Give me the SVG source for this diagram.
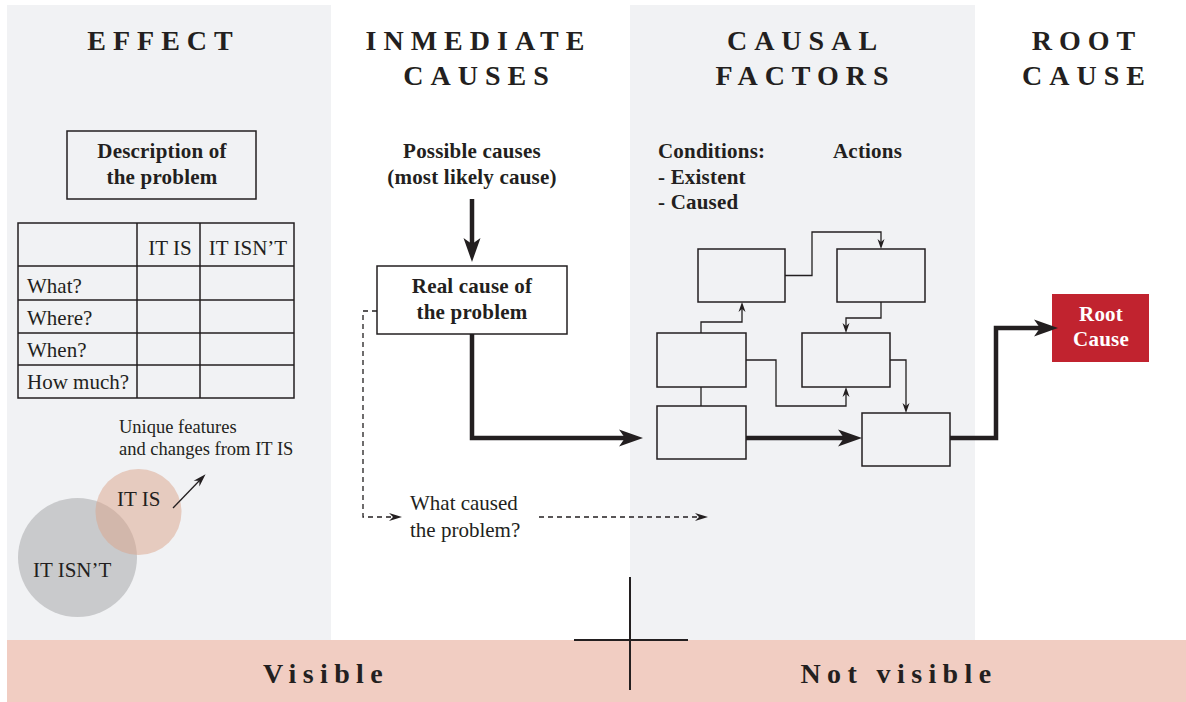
<svg xmlns="http://www.w3.org/2000/svg" width="1186" height="702" viewBox="0 0 1186 702">
<style>
text{font-family:"Liberation Serif","Times New Roman",serif;fill:#231f20}
.hd{font-size:28px;font-weight:bold;letter-spacing:7px;text-anchor:middle}
.ft{font-size:28px;font-weight:bold;letter-spacing:6.4px;text-anchor:middle}
.b{font-size:21px;font-weight:bold;letter-spacing:0.2px}
.bc{font-size:21px;font-weight:bold;letter-spacing:0.2px;text-anchor:middle}
.r{font-size:21px}
.rs{font-size:18.5px}
.box{fill:none;stroke:#231f20;stroke-width:1.5}
.thin{fill:none;stroke:#231f20;stroke-width:1.3}
.thick{fill:none;stroke:#231f20;stroke-width:4.5}
.dash{fill:none;stroke:#231f20;stroke-width:1.3;stroke-dasharray:5 4}
</style>
<defs>
<marker id="ah" markerUnits="userSpaceOnUse" viewBox="-14 -10 28 20" markerWidth="28" markerHeight="20" refX="0" refY="0" orient="auto">
<path d="M12,0 L-12,-8.5 L-6,0 L-12,8.5 Z" fill="#231f20"/>
</marker>
<marker id="as" markerUnits="userSpaceOnUse" viewBox="-6 -6 14 12" markerWidth="14" markerHeight="12" refX="0" refY="0" orient="auto">
<path d="M6,0 L-4,-3.5 L-1,0 L-4,3.5 Z" fill="#231f20"/>
</marker>
<marker id="ad" markerUnits="userSpaceOnUse" viewBox="-8 -6 18 12" markerWidth="18" markerHeight="12" refX="0" refY="0" orient="auto">
<path d="M8,0 L-5,-4 L-1,0 L-5,4 Z" fill="#231f20"/>
</marker>
</defs>

<g id="background">
<rect x="7" y="5" width="324" height="635" fill="#f1f2f4"/>
<rect x="630" y="5" width="345" height="635" fill="#f1f2f4"/>
<rect x="7" y="640" width="1179" height="62" fill="#f1cdc2"/>
</g>

<g id="headers">
<text class="hd" x="163.5" y="50">EFFECT</text>
<text class="hd" x="478.5" y="50">INMEDIATE</text>
<text class="hd" x="479.5" y="85">CAUSES</text>
<text class="hd" x="805.5" y="50">CAUSAL</text>
<text class="hd" x="805.5" y="85">FACTORS</text>
<text class="hd" x="1087" y="50">ROOT</text>
<text class="hd" x="1087" y="85">CAUSE</text>
</g>

<g id="description">
<rect class="box" x="67" y="131" width="189" height="68"/>
<text class="bc" x="162" y="158">Description of</text>
<text class="bc" x="162" y="184">the problem</text>
</g>

<g id="table">
<rect class="box" x="18" y="223" width="276" height="175"/>
<line class="box" x1="137" y1="223" x2="137" y2="398"/>
<line class="box" x1="200" y1="223" x2="200" y2="398"/>
<line class="box" x1="18" y1="266" x2="294" y2="266"/>
<line class="box" x1="18" y1="300" x2="294" y2="300"/>
<line class="box" x1="18" y1="333" x2="294" y2="333"/>
<line class="box" x1="18" y1="365" x2="294" y2="365"/>
<text class="r" x="170" y="255" text-anchor="middle">IT IS</text>
<text class="r" x="248" y="255" text-anchor="middle">IT ISN’T</text>
<text class="r" x="27" y="293">What?</text>
<text class="r" x="27" y="325">Where?</text>
<text class="r" x="27" y="357">When?</text>
<text class="r" x="27" y="389">How much?</text>
</g>

<g id="venn">
<circle cx="77.5" cy="557.5" r="59.5" fill="#c9cacc"/>
<circle cx="138.5" cy="512" r="43" fill="#dba38a" fill-opacity="0.5"/>
<text class="r" x="117" y="506">IT IS</text>
<text class="r" x="33" y="577">IT ISN’T</text>
<text class="rs" x="119" y="433">Unique features</text>
<text class="rs" x="119" y="455">and changes from IT IS</text>
</g>

<g id="possible-causes">
<text class="bc" x="472" y="158">Possible causes</text>
<text class="bc" x="472" y="184">(most likely cause)</text>
</g>

<g id="real-cause">
<rect class="box" x="377" y="266" width="190" height="68" fill="#ffffff"/>
<text class="bc" x="472" y="293">Real cause of</text>
<text class="bc" x="472" y="319">the problem</text>
</g>

<g id="what-caused">
<text class="r" x="410" y="510">What caused</text>
<text class="r" x="410" y="537">the problem?</text>
</g>

<g id="conditions">
<text class="b" x="658" y="158">Conditions:</text>
<text class="b" x="658" y="184">- Existent</text>
<text class="b" x="658" y="209">- Caused</text>
<text class="b" x="833" y="158">Actions</text>
</g>

<g id="factor-1"><rect class="box" x="698" y="249" width="87" height="53"/></g>
<g id="factor-2"><rect class="box" x="837" y="249" width="88" height="53"/></g>
<g id="factor-3"><rect class="box" x="657" y="333" width="89" height="54"/></g>
<g id="factor-4"><rect class="box" x="802" y="333" width="88" height="54"/></g>
<g id="factor-5"><rect class="box" x="657" y="406" width="89" height="53"/></g>
<g id="factor-6"><rect class="box" x="862" y="413" width="88" height="53"/></g>

<g id="root-cause">
<rect x="1052" y="294" width="97" height="68" fill="#c1232f"/>
<text class="bc" x="1101" y="321" style="fill:#ffffff">Root</text>
<text class="bc" x="1101" y="346" style="fill:#ffffff">Cause</text>
</g>

<g id="connectors">
<line class="thin" x1="173" y1="508" x2="200" y2="480" marker-end="url(#ad)"/>
<line class="thick" x1="472" y1="199" x2="472" y2="250" marker-end="url(#ah)"/>
<polyline class="thick" points="472,334 472,438 631,438" marker-end="url(#ah)"/>
<polyline class="dash" points="377,311 363,311 363,517 394,517" marker-end="url(#ad)"/>
<line class="dash" x1="539" y1="517" x2="700" y2="517" marker-end="url(#ad)"/>
<polyline class="thin" points="785,275.5 812,275.5 812,232 881,232 881,243" marker-end="url(#as)"/>
<polyline class="thin" points="701,333 701,322 742,322 742,308" marker-end="url(#as)"/>
<polyline class="thin" points="881,302 881,318 846,318 846,327" marker-end="url(#as)"/>
<polyline class="thin" points="746,360 776,360 776,406 846,406 846,393" marker-end="url(#as)"/>
<line class="thin" x1="701" y1="387" x2="701" y2="406"/>
<polyline class="thin" points="890,360 906,360 906,407" marker-end="url(#as)"/>
<line class="thick" x1="746" y1="438" x2="850" y2="438" marker-end="url(#ah)"/>
<polyline class="thick" points="950,438 996,438 996,328 1046,328" marker-end="url(#ah)"/>
</g>

<g id="divider">
<line x1="630" y1="577" x2="630" y2="690" stroke="#231f20" stroke-width="2"/>
<line x1="574" y1="640" x2="688" y2="640" stroke="#231f20" stroke-width="2"/>
</g>

<g id="visibility">
<text class="ft" x="326" y="683">Visible</text>
<text class="ft" x="899" y="683">Not visible</text>
</g>
</svg>
